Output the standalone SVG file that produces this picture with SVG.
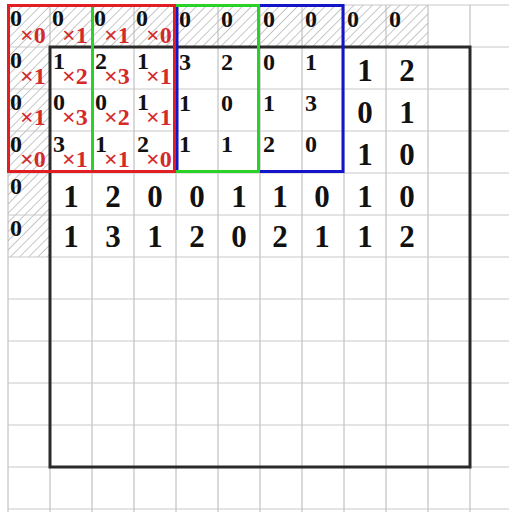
<svg xmlns="http://www.w3.org/2000/svg" width="509" height="512" viewBox="0 0 509 512">
<defs>
<pattern id="hatch" patternUnits="userSpaceOnUse" width="6.5" height="6.5" patternTransform="rotate(45)">
<line x1="0" y1="0" x2="0" y2="6.5" stroke="#8c8c8c" stroke-width="1"/>
</pattern>
</defs>
<style>
.g{stroke:#c8c8c8;stroke-width:1}
.gv{stroke:#b4b4b4;stroke-width:1}
.d{font-family:"Liberation Serif","Times New Roman",serif;font-weight:bold;fill:#111}
.s{font-size:24px}
.m{font-size:24px}
.l{font-size:31px;text-anchor:middle}
.r{font-family:"Liberation Serif","Times New Roman",serif;font-weight:bold;fill:#d42a2a;font-size:24px}
</style>
<rect width="509" height="512" fill="#fff"/>
<g id="padding">
<rect x="8" y="5" width="420" height="42" fill="url(#hatch)"/>
<rect x="8" y="47" width="42" height="210" fill="url(#hatch)"/>
</g>
<g id="grid">
<path class="gv" d="M8 5V512M50 5V512M92 5V512M134 5V512M176 5V512M218 5V512M260 5V512M302 5V512M344 5V512M386 5V512M428 5V512M470 5V512"/>
<path class="g" d="M8 5H509M8 47H509M8 89H509M8 131H509M8 173H509M8 215H509M8 257H509M8 299H509M8 341H509M8 383H509M8 425H509M8 467H509M8 509H509"/>
</g>
<g id="frame">
<rect x="50" y="47" width="420" height="420" fill="none" stroke="#2a2a2a" stroke-width="3"/>
</g>
<g id="windows">
<rect id="blue" x="177" y="5.5" width="166" height="166" fill="none" stroke="#1414c8" stroke-width="3"/>
<rect id="green" x="92.5" y="5.5" width="166" height="166" fill="none" stroke="#28d228" stroke-width="3"/>
<rect id="red" x="8.5" y="5.5" width="166" height="166" fill="none" stroke="#e01e24" stroke-width="3"/>
</g>
<g id="pad-values" class="d s">
<text x="10" y="26">0</text><text x="52" y="26">0</text><text x="94" y="26">0</text><text x="136" y="26">0</text>
<text x="179" y="27">0</text><text x="221" y="27">0</text><text x="263" y="27">0</text><text x="305" y="27">0</text>
<text x="347" y="27">0</text><text x="389" y="27">0</text>
<text x="10" y="68">0</text><text x="10" y="110">0</text><text x="10" y="152">0</text>
<text x="10" y="194">0</text><text x="10" y="236">0</text>
</g>
<g id="kernel-values" class="d m">
<text x="53" y="69">1</text><text x="95" y="69">2</text><text x="137" y="69">1</text>
<text x="53" y="110">0</text><text x="95" y="110">0</text><text x="137" y="110">1</text>
<text x="53" y="152">3</text><text x="95" y="152">1</text><text x="137" y="152">2</text>
</g>
<g id="weights" class="r">
<text x="20" y="43">×0</text><text x="62" y="43">×1</text><text x="104" y="43">×1</text><text x="146" y="43">×0</text>
<text x="20" y="84">×1</text><text x="62" y="84">×2</text><text x="104" y="84">×3</text><text x="146" y="84">×1</text>
<text x="20" y="125">×1</text><text x="62" y="125">×3</text><text x="104" y="125">×2</text><text x="146" y="125">×1</text>
<text x="20" y="167">×0</text><text x="62" y="167">×1</text><text x="104" y="167">×1</text><text x="146" y="167">×0</text>
</g>
<g id="window-values" class="d m">
<text x="179" y="70">3</text><text x="221" y="70">2</text><text x="263" y="70">0</text><text x="305" y="70">1</text>
<text x="179" y="111">1</text><text x="221" y="111">0</text><text x="263" y="111">1</text><text x="305" y="111">3</text>
<text x="179" y="152">1</text><text x="221" y="152">1</text><text x="263" y="152">2</text><text x="305" y="152">0</text>
</g>
<g id="input-values" class="d l">
<text x="365" y="81">1</text><text x="407" y="81">2</text>
<text x="365" y="123">0</text><text x="407" y="123">1</text>
<text x="365" y="165">1</text><text x="407" y="165">0</text>
<text x="71" y="207">1</text><text x="113" y="207">2</text><text x="155" y="207">0</text><text x="197" y="207">0</text><text x="239" y="207">1</text><text x="280" y="207">1</text><text x="322" y="207">0</text><text x="365" y="207">1</text><text x="407" y="207">0</text>
<text x="71" y="247">1</text><text x="113" y="247">3</text><text x="155" y="247">1</text><text x="197" y="247">2</text><text x="239" y="247">0</text><text x="280" y="247">2</text><text x="322" y="247">1</text><text x="365" y="247">1</text><text x="407" y="247">2</text>
</g>
</svg>
